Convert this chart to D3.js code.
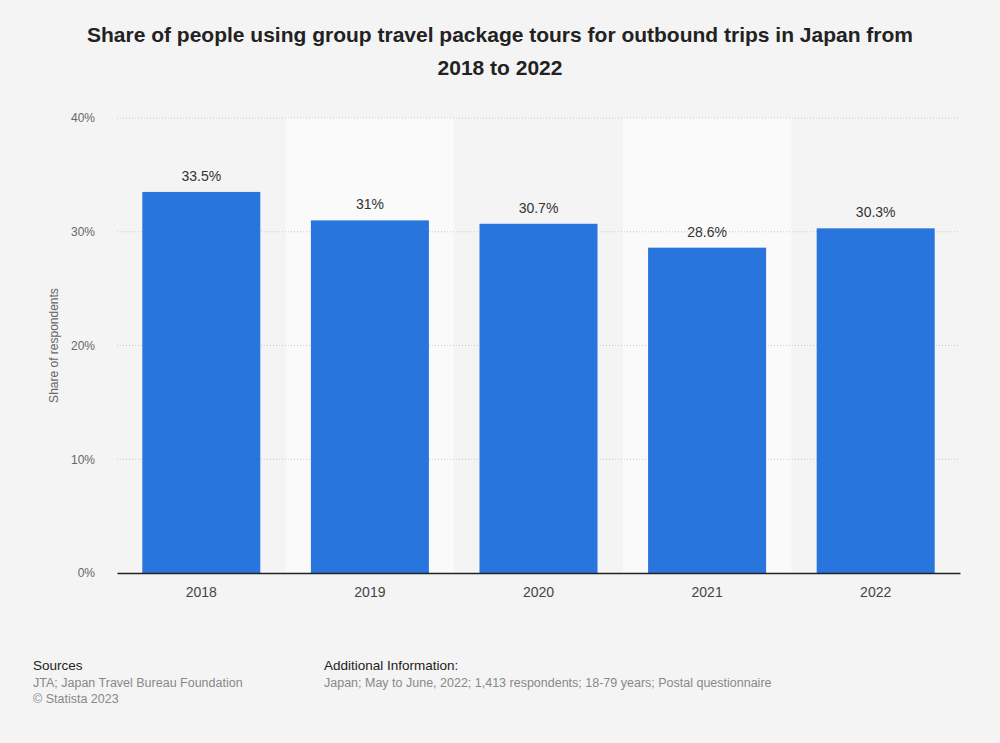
<!DOCTYPE html>
<html lang="en">
<head>
  <meta charset="UTF-8">
  <title>Group travel package tours</title>
  <script src="https://d3js.org/d3.v7.min.js"></script>
  <style>
    body { margin: 0; background: #f4f4f4; font-family: "Liberation Sans", Arial, sans-serif; }
  </style>
</head>
<body>
  <script>
    // Data
    var years = ["2018", "2019", "2020", "2021", "2022"];
    var shares = [33.5, 31, 30.7, 28.6, 30.3];
    var valueLabels = ["33.5%", "31%", "30.7%", "28.6%", "30.3%"];
    var yTicks = [0, 10, 20, 30, 40];

    var w = 1000, h = 743;
    var plotLeft = 117, plotRight = 960, plotTop = 118, plotBottom = 573;

    var svg = d3.select("body").append("svg")
      .attr("width", w)
      .attr("height", h);

    svg.append("rect").attr("width", w).attr("height", h).attr("fill", "#f4f4f4");

    // Title
    var title = svg.append("text")
      .attr("text-anchor", "middle")
      .attr("font-size", 21)
      .attr("font-weight", "bold")
      .attr("fill", "#222");
    title.append("tspan").attr("x", 500).attr("y", 42)
      .text("Share of people using group travel package tours for outbound trips in Japan from");
    title.append("tspan").attr("x", 500).attr("y", 75).text("2018 to 2022");

    var x = d3.scaleBand()
      .domain(years)
      .range([plotLeft, plotRight])
      .paddingInner(0.3)
      .paddingOuter(0.15);

    var y = d3.scaleLinear()
      .domain([0, 40])
      .range([plotBottom, plotTop]);

    // alternating column shading
    var step = x.step();
    svg.selectAll("rect.band")
      .data(years.filter(function(d, i) { return i % 2 === 1; }))
      .enter().append("rect")
      .attr("class", "band")
      .attr("x", function(d) { return x(d) - (step - x.bandwidth()) / 2; })
      .attr("y", plotTop)
      .attr("width", step)
      .attr("height", plotBottom - plotTop)
      .attr("fill", "#fafafa");

    // gridlines
    svg.selectAll("line.grid")
      .data(yTicks.filter(function(d) { return d > 0; }))
      .enter().append("line")
      .attr("class", "grid")
      .attr("x1", plotLeft).attr("x2", plotRight)
      .attr("y1", function(d) { return y(d); })
      .attr("y2", function(d) { return y(d); })
      .attr("stroke", "#c8c8c8")
      .attr("stroke-dasharray", "1,2");

    // y axis
    var yAxis = d3.axisLeft(y)
      .tickValues(yTicks)
      .tickFormat(function(d) { return d + "%"; })
      .tickSize(0)
      .tickPadding(22);
    var gy = svg.append("g")
      .attr("transform", "translate(" + plotLeft + ",0)")
      .call(yAxis);
    gy.select(".domain").remove();
    gy.selectAll("text")
      .attr("font-family", "Liberation Sans, Arial, sans-serif")
      .attr("font-size", 12)
      .attr("fill", "#666");

    svg.append("text")
      .attr("transform", "translate(58," + ((plotTop + plotBottom) / 2) + ") rotate(-90)")
      .attr("text-anchor", "middle")
      .attr("font-size", 12)
      .attr("fill", "#666")
      .text("Share of respondents");

    // bars
    svg.selectAll("rect.bar")
      .data(shares)
      .enter().append("rect")
      .attr("class", "bar")
      .attr("x", function(d, i) { return x(years[i]); })
      .attr("y", function(d) { return y(d); })
      .attr("width", x.bandwidth())
      .attr("height", function(d) { return plotBottom - y(d); })
      .attr("fill", "#2876dd");

    svg.selectAll("text.val")
      .data(shares)
      .enter().append("text")
      .attr("class", "val")
      .attr("x", function(d, i) { return x(years[i]) + x.bandwidth() / 2; })
      .attr("y", function(d) { return y(d) - 11; })
      .attr("text-anchor", "middle")
      .attr("font-size", 14)
      .attr("fill", "#333")
      .text(function(d, i) { return valueLabels[i]; });

    // x axis
    var xAxis = d3.axisBottom(x).tickSize(0).tickPadding(14);
    var gx = svg.append("g")
      .attr("transform", "translate(0," + plotBottom + ")")
      .call(xAxis);
    gx.select(".domain").attr("stroke", "#222").attr("stroke-width", 1.5);
    gx.selectAll("text")
      .attr("font-family", "Liberation Sans, Arial, sans-serif")
      .attr("font-size", 14)
      .attr("fill", "#444");

    // footer
    svg.append("text").attr("x", 33).attr("y", 670)
      .attr("font-size", 13.5).attr("fill", "#222").text("Sources");
    svg.append("text").attr("x", 33).attr("y", 687)
      .attr("font-size", 12.5).attr("fill", "#888").text("JTA; Japan Travel Bureau Foundation");
    svg.append("text").attr("x", 33).attr("y", 703)
      .attr("font-size", 12.5).attr("fill", "#888").text("© Statista 2023");
    svg.append("text").attr("x", 324).attr("y", 670)
      .attr("font-size", 13.5).attr("fill", "#222").text("Additional Information:");
    svg.append("text").attr("x", 324).attr("y", 687)
      .attr("font-size", 12.5).attr("fill", "#888")
      .text("Japan; May to June, 2022; 1,413 respondents; 18-79 years; Postal questionnaire");
  </script>
</body>
</html>
